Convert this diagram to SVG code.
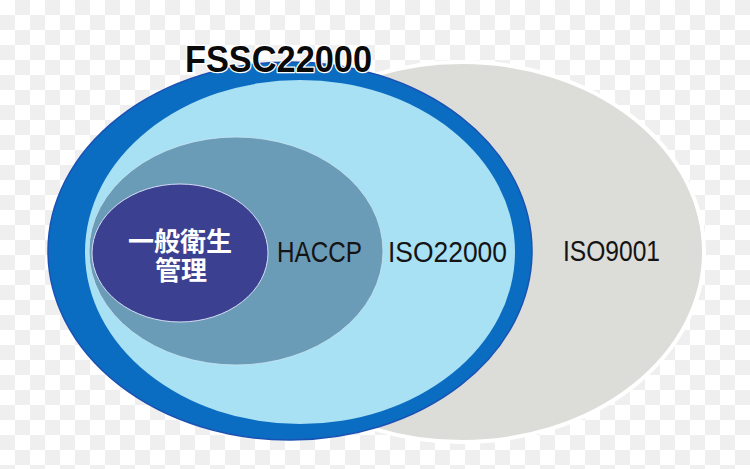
<svg xmlns="http://www.w3.org/2000/svg" width="750" height="469" viewBox="0 0 750 469">
  <style>
    .lbl { font-family: "Liberation Sans", Arial, sans-serif; fill: #141414; font-size: 30px; }
    .jp { font-family: "Noto Sans CJK JP", "Noto Sans CJK SC", sans-serif; font-weight: bold; fill: #ffffff; font-size: 26px; text-anchor: middle; }
    .title { font-family: "Liberation Sans", Arial, sans-serif; font-weight: bold; font-size: 37px; fill: #0a0a0a; stroke: #ffffff; stroke-width: 2.5; paint-order: stroke; stroke-linejoin: round; }
  </style>
  <defs>
    <pattern id="checker" x="0" y="0" width="30" height="30" patternUnits="userSpaceOnUse">
      <rect width="30" height="30" fill="#ffffff"/>
      <rect x="15" y="0" width="15" height="15" fill="#efefef"/>
      <rect x="0" y="15" width="15" height="15" fill="#efefef"/>
    </pattern>
  </defs>
  <rect width="750" height="469" fill="url(#checker)"/>

  <g id="iso9001">
    <ellipse cx="462" cy="252" rx="242" ry="190" fill="#dcdcd9" stroke="#ffffff" stroke-width="4"/>
    <text class="lbl" x="563" y="261" textLength="97" lengthAdjust="spacingAndGlyphs">ISO9001</text>
  </g>

  <g id="fssc22000">
    <ellipse cx="290" cy="251" rx="242" ry="189" fill="#0b6dc1" stroke="#1a52b3" stroke-width="1.5"/>
  </g>

  <g id="iso22000">
    <ellipse cx="300" cy="252" rx="215" ry="172" fill="#a8e0f4"/>
    <text class="lbl" x="388" y="262" textLength="119" lengthAdjust="spacingAndGlyphs">ISO22000</text>
  </g>

  <g id="haccp">
    <ellipse cx="236" cy="251" rx="147" ry="114" fill="#6b9cb7" stroke="#c9e6f2" stroke-width="0.8"/>
    <text class="lbl" x="277" y="262" textLength="85" lengthAdjust="spacingAndGlyphs">HACCP</text>
  </g>

  <g id="general-hygiene">
    <ellipse cx="180" cy="253" rx="88" ry="69" fill="#3c4091" stroke="#d6dcf5" stroke-width="1"/>
    <text class="jp"><tspan x="180" y="251">一般衛生</tspan><tspan x="181" y="280">管理</tspan></text>
  </g>

  <g id="fssc-title">
    <text class="title" x="185" y="72" textLength="187" lengthAdjust="spacingAndGlyphs">FSSC22000</text>
  </g>
</svg>
